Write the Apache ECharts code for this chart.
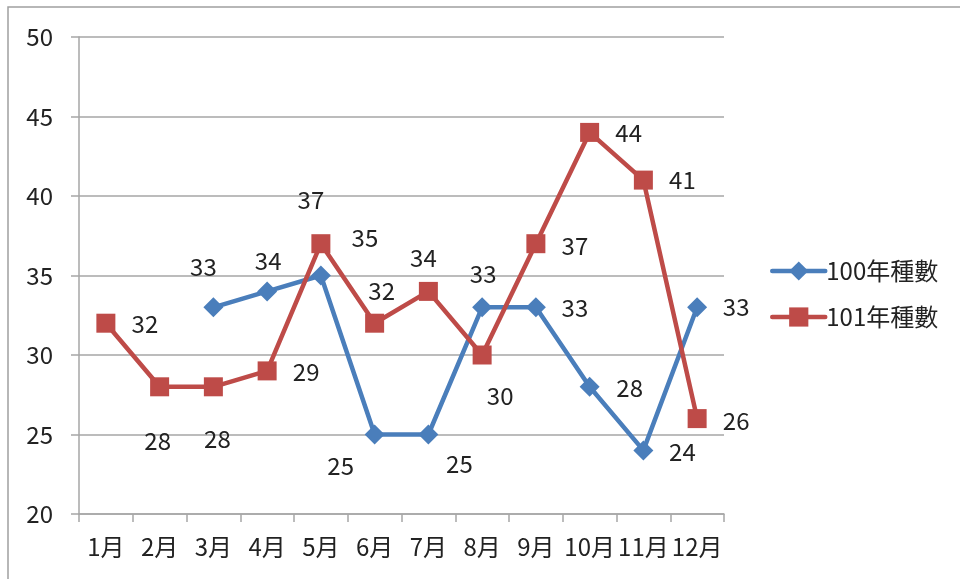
<!DOCTYPE html>
<html>
<head>
<meta charset="utf-8">
<script src="https://cdn.jsdelivr.net/npm/echarts@6/dist/echarts.min.js"></script>
<style>
html,body{margin:0;padding:0;background:#fff;}
#chart{width:960px;height:579px;}
</style>
</head>
<body>
<div id="chart"></div>
<script>
const categories = ['1月','2月','3月','4月','5月','6月','7月','8月','9月','10月','11月','12月'];
const seriesNames = ['100年種數','101年種數'];
const values100 = ['-','-',33,34,35,25,25,33,33,28,24,33];
const values101 = [32,28,28,29,37,32,34,30,37,44,41,26];
const yTicks = {min:20, max:50, interval:5};

// label offsets (style only): centre of label relative to the point
const labelOffsets100 = [null,null,[-10,-40],[1,-31],[44,-38],[-34,31],[31,29],[1,-33],[39,1],[40,1],[39,1],[39,0]];
const labelOffsets101 = [[39,1],[-2,54],[4,52],[39,1],[-10,-44],[7,-32],[-5,-34],[18,41],[39,2],[39,0],[39,0],[39,2]];

const FONT = '"Noto Sans CJK TC","Noto Sans",sans-serif';
const TXT = '#222222';
const GRIDC = '#a6a6a6';

function buildData(vals, offs){
  return vals.map((v,i)=>{
    if (v === '-' ) return {value:'-'};
    return {value:v, label:{offset: offs[i]}};
  });
}

const chart = echarts.init(document.getElementById('chart'), null, {renderer:'canvas'});
chart.setOption({
  animation:false,
  backgroundColor:'#ffffff',
  graphic:[{
    type:'rect', shape:{x:8,y:7,width:960,height:600},
    style:{fill:'none', stroke:'#a0a0a0', lineWidth:1.5}, silent:true, z:-10
  }],
  grid:{left:79, right:236, top:37, bottom:65, containLabel:false},
  legend:{
    orient:'vertical', left:765, top:254, itemWidth:53, itemHeight:24, itemGap:22,
    lineStyle:{width:4.5, cap:'round'},
    textStyle:{fontFamily:FONT, fontSize:24, color:TXT, padding:[0,0,0,-4]},
    data:seriesNames
  },
  xAxis:{
    type:'category', data:categories, boundaryGap:true,
    axisLine:{show:true, lineStyle:{color:GRIDC, width:1.5}},
    axisTick:{show:true, length:8, alignWithLabel:false, lineStyle:{color:GRIDC, width:1.5}},
    axisLabel:{fontFamily:FONT, fontSize:24, color:TXT, margin:21, interval:0},
    splitLine:{show:false}
  },
  yAxis:{
    type:'value', min:yTicks.min, max:yTicks.max, interval:yTicks.interval,
    axisLine:{show:true, lineStyle:{color:GRIDC, width:1.5}},
    axisTick:{show:true, length:8, lineStyle:{color:GRIDC, width:1.5}},
    axisLabel:{fontFamily:FONT, fontSize:24, color:TXT, margin:26},
    splitLine:{show:true, lineStyle:{color:GRIDC, width:1.5}}
  },
  series:[
    {
      name:seriesNames[0], type:'line', data:buildData(values100, labelOffsets100),
      symbol:'diamond', symbolSize:20, showAllSymbol:true,
      lineStyle:{color:'#4A7EBB', width:4.5},
      itemStyle:{color:'#4A7EBB'},
      label:{show:true, position:'inside', fontFamily:FONT, fontSize:24, color:TXT},
      z:2
    },
    {
      name:seriesNames[1], type:'line', data:buildData(values101, labelOffsets101),
      symbol:'rect', symbolSize:19, showAllSymbol:true,
      lineStyle:{color:'#BE4B48', width:4.5},
      itemStyle:{color:'#BE4B48'},
      label:{show:true, position:'inside', fontFamily:FONT, fontSize:24, color:TXT},
      z:3
    }
  ]
});
</script>
</body>
</html>
